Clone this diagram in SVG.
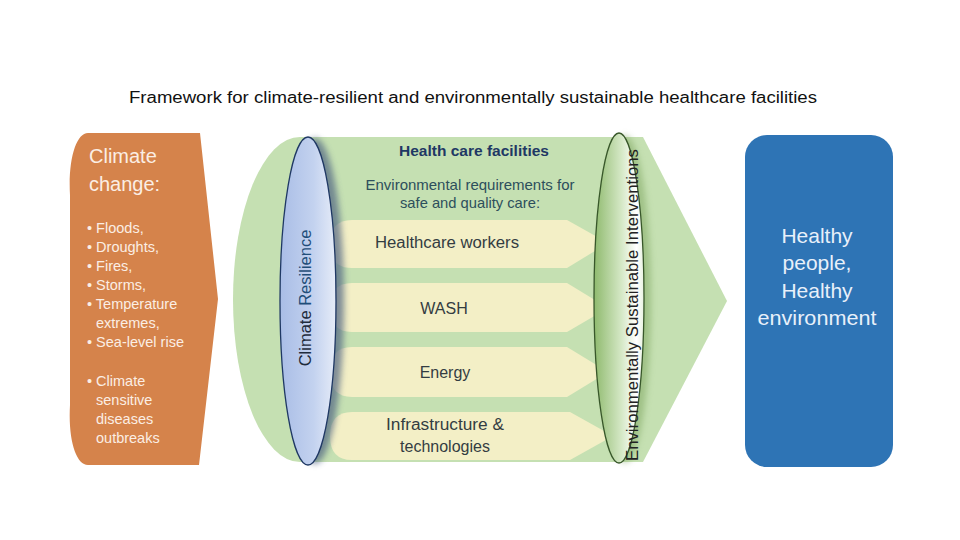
<svg xmlns="http://www.w3.org/2000/svg" width="960" height="540" viewBox="0 0 960 540">
<style>
text{font-family:"Liberation Sans","Open Sans",Arial,sans-serif}
.t{font-size:16px;fill:#111}
.cc{fill:#fbeee4}
.b{font-size:14.5px;fill:#fbeee4}
.lab{font-size:16px;fill:#333d42;text-anchor:middle}
.hp{font-size:21px;fill:#e8f0fa;text-anchor:middle}
.arr{fill:#f3efc6}
</style>
<defs>
<linearGradient id="gBlue" x1="0" y1="0" x2="1" y2="0">
<stop offset="0" stop-color="#a9bde6"/>
<stop offset="0.6" stop-color="#c3d2ef"/>
<stop offset="1" stop-color="#e6ecf8"/>
</linearGradient>
<linearGradient id="gGreen" x1="0" y1="0" x2="1" y2="0">
<stop offset="0" stop-color="#8fba6e"/>
<stop offset="0.55" stop-color="#d5e8c6"/>
<stop offset="0.85" stop-color="#ffffff"/>
<stop offset="1" stop-color="#e8f2df"/>
</linearGradient>
<filter id="blur" x="-50%" y="-10%" width="200%" height="120%"><feGaussianBlur stdDeviation="3"/></filter>
</defs>

<text class="t" x="129" y="103" textLength="688" lengthAdjust="spacingAndGlyphs">Framework for climate-resilient and environmentally sustainable healthcare facilities</text>

<g id="climate-change">
<path d="M88,133 L200,133 L218,299 L199,465 L88,465 C76,465 68,440 70,405 L70,195 C68,160 76,133 88,133 Z" fill="#d5834b"/>
<text class="cc" x="89" y="163" font-size="20">Climate</text>
<text class="cc" x="89" y="191" font-size="20">change:</text>
<text class="b" x="87" y="233">• Floods,</text>
<text class="b" x="87" y="252">• Droughts,</text>
<text class="b" x="87" y="271">• Fires,</text>
<text class="b" x="87" y="290">• Storms,</text>
<text class="b" x="87" y="309">• Temperature</text>
<text class="b" x="96" y="328">extremes,</text>
<text class="b" x="87" y="347">• Sea-level rise</text>
<text class="b" x="87" y="386">• Climate</text>
<text class="b" x="96" y="405">sensitive</text>
<text class="b" x="96" y="424">diseases</text>
<text class="b" x="96" y="443">outbreaks</text>
</g>

<g id="health-care-facilities">
<path d="M300,137 L643,137 L727,301 L643,462 L300,462 A67,162.5 0 0 1 300,137 Z" fill="#c5e0b2"/>
<text x="474" y="156" font-size="15.5" font-weight="bold" fill="#1f3864" text-anchor="middle">Health care facilities</text>
<text x="470" y="190" font-size="14.5" fill="#2d4f5c" text-anchor="middle" textLength="209" lengthAdjust="spacingAndGlyphs">Environmental requirements for</text>
<text x="470" y="208" font-size="14.5" fill="#2d4f5c" text-anchor="middle" textLength="140" lengthAdjust="spacingAndGlyphs">safe and quality care:</text>
</g>

<g id="healthcare-workers">
<path class="arr" d="M352,220 L567,220 L608,243 L567,268 L352,268 Q330,268 330,244 Q330,220 352,220 Z"/>
<text class="lab" x="447" y="248" textLength="144" lengthAdjust="spacingAndGlyphs">Healthcare workers</text>
</g>
<g id="wash">
<path class="arr" d="M352,283 L567,283 L608,308 L567,332 L352,332 Q330,332 330,307 Q330,283 352,283 Z"/>
<text class="lab" x="444" y="314">WASH</text>
</g>
<g id="energy">
<path class="arr" d="M352,347 L567,347 L608,372 L567,397 L352,397 Q330,397 330,372 Q330,347 352,347 Z"/>
<text class="lab" x="445" y="378">Energy</text>
</g>
<g id="infrastructure">
<path class="arr" d="M352,412 L570,412 L613,436 L570,460 L352,460 Q330,460 330,436 Q330,412 352,412 Z"/>
<text class="lab" x="445" y="430" textLength="118" lengthAdjust="spacingAndGlyphs">Infrastructure &amp;</text>
<text class="lab" x="445" y="452">technologies</text>
</g>

<g id="climate-resilience">
<ellipse cx="315" cy="301" rx="29" ry="163" fill="#4f6482" opacity="0.7" filter="url(#blur)"/>
<ellipse cx="308" cy="301" rx="28" ry="164" fill="url(#gBlue)" stroke="#1f3864" stroke-width="1.3"/>
<text x="0" y="0" font-size="16.5" text-anchor="middle" transform="translate(311,298) rotate(-90)"><tspan fill="#1e2b3c">Climate </tspan><tspan fill="#1f4e79">Resilience</tspan></text>
</g>

<g id="sustainable-interventions">
<ellipse cx="625" cy="299" rx="26" ry="164" fill="#7aa35c" opacity="0.5" filter="url(#blur)"/>
<ellipse cx="619" cy="298" rx="25" ry="165" fill="url(#gGreen)" stroke="#38572a" stroke-width="1.3"/>
<text x="0" y="0" font-size="16" fill="#222" text-anchor="middle" textLength="312" lengthAdjust="spacingAndGlyphs" transform="translate(638,305) rotate(-90)">Environmentally Sustainable Interventions</text>
</g>

<g id="healthy-outcome">
<rect x="745" y="135" width="148" height="332" rx="22" fill="#2e74b5"/>
<text class="hp" x="817" y="243">Healthy</text>
<text class="hp" x="817" y="270">people,</text>
<text class="hp" x="817" y="298">Healthy</text>
<text class="hp" x="817" y="325" textLength="119" lengthAdjust="spacingAndGlyphs">environment</text>
</g>

<g id="connectors"></g>
</svg>
